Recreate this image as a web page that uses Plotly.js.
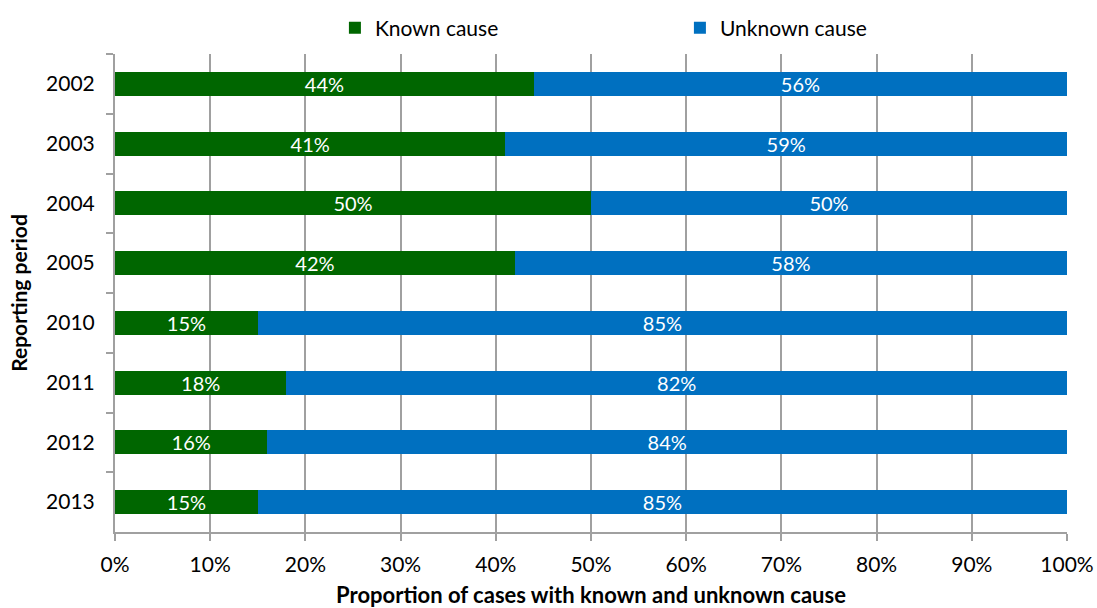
<!DOCTYPE html>
<html><head><meta charset="utf-8">
<script src="https://cdn.plot.ly/plotly-3.0.1.min.js"></script>
<style>html,body{margin:0;padding:0;background:#fff}#c{width:1097px;height:608px}</style>
</head><body><div id="c"></div>
<script>
var periods = ["2002","2003","2004","2005","2010","2011","2012","2013"];
var knownCause = [44,41,50,42,15,18,16,15];
var unknownCause = [56,59,50,58,85,82,84,85];
var xTicks = [0,10,20,30,40,50,60,70,80,90,100];

var FONT = 'Lato, "Open Sans", sans-serif';
function pct(v){return v.map(function(x){return x+'%';});}
var traces = [
 {type:'bar',orientation:'h',name:'Known cause',y:periods,x:knownCause,text:pct(knownCause),
  textposition:'inside',insidetextanchor:'middle',constraintext:'none',textfont:{color:'#fff',size:20,family:FONT},
  marker:{color:'#006600'},hoverinfo:'none'},
 {type:'bar',orientation:'h',name:'Unknown cause',y:periods,x:unknownCause,text:pct(unknownCause),
  textposition:'inside',insidetextanchor:'middle',constraintext:'none',textfont:{color:'#fff',size:20,family:FONT},
  marker:{color:'#0070C0'},hoverinfo:'none'}
];
var layout = {
 width:1097,height:608,barmode:'stack',bargap:0.6,
 margin:{l:115,r:30,t:54,b:76,autoexpand:false},
 font:{family:FONT,size:21,color:'#000'},
 paper_bgcolor:'#fff',plot_bgcolor:'#fff',
 showlegend:true,
 legend:{orientation:'h',x:0.231,xanchor:'left',y:1.054,yanchor:'middle',
   font:{size:21,family:FONT},traceorder:'normal',itemwidth:30,entrywidth:300,
   itemclick:false},
 xaxis:{range:[0,100],tickvals:xTicks,ticktext:pct(xTicks),showgrid:true,gridcolor:'#A0A0A0',gridwidth:2,
   showline:true,linecolor:'#A0A0A0',linewidth:2,ticks:'outside',ticklen:7,tickcolor:'#A0A0A0',tickwidth:2,
   ticklabelstandoff:6,zeroline:false,fixedrange:true,
   title:{text:'<b>Proportion of cases with known and unknown cause</b>',font:{size:22,family:FONT},standoff:14}},
 yaxis:{type:'category',autorange:'reversed',showline:true,linecolor:'#A0A0A0',linewidth:2,
   ticks:'outside',tickson:'boundaries',ticklen:7,tickcolor:'#A0A0A0',tickwidth:2,showgrid:false,
   ticklabelstandoff:14,fixedrange:true,
   title:{text:'<b>Reporting period</b>',font:{size:21,family:FONT},standoff:13}}
};
Plotly.newPlot('c',traces,layout,{displayModeBar:false,staticPlot:true});
</script></body></html>
